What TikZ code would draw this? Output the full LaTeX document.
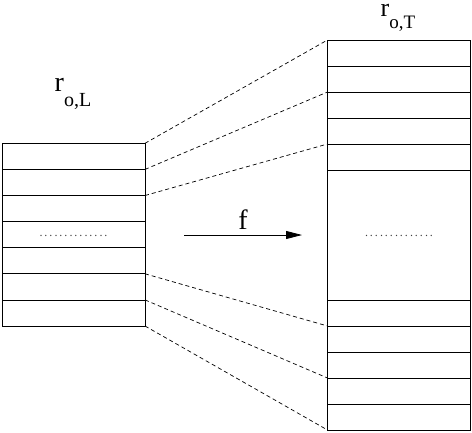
\documentclass[tikz,border=0pt]{standalone}
\usepackage{fontspec}
\setmainfont{Liberation Serif}
\usepackage{tikz}
\usetikzlibrary{positioning,arrows.meta}

\begin{document}
\begin{tikzpicture}[x=1pt,y=-1pt,
cell/.style={draw,rectangle,line width=0.8pt,minimum width=143pt,minimum height=26.1pt,inner sep=0pt,outer sep=0pt},
tcell/.style={cell,minimum height=26pt},
link/.style={draw,line width=0.7pt,dash pattern=on 4pt off 3pt},
dotrow/.style={font=\fontsize{12}{14}\selectfont,text=black!75,inner sep=0pt,anchor=base}]
\useasboundingbox (0,0) rectangle (472,432);
% left stack
\foreach \i in {1,...,7}
  \node (l\i) [cell] at (73.5,130.25+26.1*\i) {};
\node (ldots) [dotrow] at ([yshift=-1.5pt]l4.center) {.\,.\,.\,.\,.\,.\,.\,.\,.\,.\,.\,.\,.\,.};
% right stack
\foreach \i in {1,...,5}
  \node (t\i) [tcell] at (399,27+26*\i) {};
\node (tm) [tcell,minimum height=130pt] at (399,235) {};
\foreach \i in {1,...,5}
  \node (b\i) [tcell] at (399,287+26*\i) {};
\node (tdots) [dotrow] at ([yshift=-1.5pt]tm.center) {.\,.\,.\,.\,.\,.\,.\,.\,.\,.\,.\,.\,.\,.};
% labels
\node (labL) [anchor=base west,inner sep=0pt] at (54.5,91)
  {\fontsize{28}{30}\selectfont r\raisebox{-15pt}{\fontsize{20}{22}\selectfont o,L}};
\node (labT) [anchor=base west,inner sep=0pt] at (380.5,16)
  {\fontsize{26}{28}\selectfont r\raisebox{-12.5pt}{\fontsize{19}{21}\selectfont o,T}};
% mapping
\coordinate (fs) at (184,235);
\coordinate (fe) at (302,235);
\draw [line width=0.8pt,-{Triangle[length=16pt,width=8pt]}] (fs) -- (fe)
  node (f) [midway,above=5pt,font=\fontsize{28}{30}\selectfont,inner sep=0pt] {f};
\draw [link] (l1.north east) -- (t1.north west);
\draw [link] (l2.north east) -- (t3.north west);
\draw [link] (l3.north east) -- (t5.north west);
\draw [link] (l6.north east) -- (b2.north west);
\draw [link] (l7.north east) -- (b4.north west);
\draw [link] (l7.south east) -- (b5.south west);
\end{tikzpicture}
\end{document}
